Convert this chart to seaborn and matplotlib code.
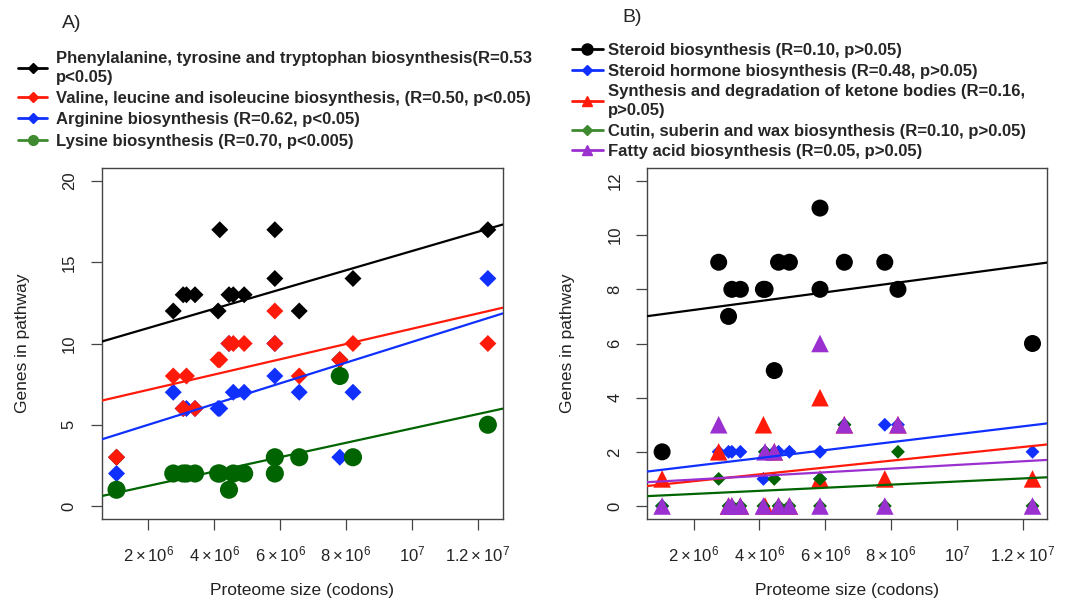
import numpy as np
import pandas as pd
import matplotlib
matplotlib.use('Agg')
import matplotlib.pyplot as plt
from matplotlib.lines import Line2D
from matplotlib import font_manager
import seaborn as sns

# proteome size of each organism (codons, in millions)
proteome = [1.04, 2.76, 3.06, 3.16, 3.42, 4.12, 4.17, 4.45, 4.58, 4.91,
            5.84, 5.84, 6.58, 7.81, 8.21, 12.3]

# panel A: amino acid pathways
phe = [3, 12, 13, 13, 13, 12, 17, 13, 13, 13, 17, 14, 12, 9, 14, 17]
val = [3, 8, 6, 8, 6, 9, 9, 10, 10, 10, 12, 10, 8, 9, 10, 10]
arg = [2, 7, 6, 6, 6, 6, 6, 10, 7, 7, 8, 10, 7, 3, 7, 14]
lys = [1, 2, 2, 2, 2, 2, 2, 1, 2, 2, 3, 2, 3, 8, 3, 5]

# panel B: lipid pathways
steroid = [2, 9, 7, 8, 8, 8, 8, 5, 9, 9, 11, 8, 9, 9, 8, 6]
hormone = [0, 2, 2, 2, 2, 1, 2, 2, 2, 2, 2, 1, 3, 3, 3, 2]
ketone = [1, 2, 0, 0, 0, 3, 0, 2, 0, 0, 4, 1, 3, 1, 3, 1]
cutin = [0, 1, 0, 0, 0, 0, 2, 1, 0, 0, 1, 0, 3, 0, 2, 0]
fatty = [0, 3, 0, 0, 0, 0, 2, 2, 0, 0, 6, 0, 3, 0, 3, 0]

labels_a = ["Phenylalanine, tyrosine and tryptophan biosynthesis(R=0.53\np<0.05)",
            "Valine, leucine and isoleucine biosynthesis, (R=0.50, p<0.05)",
            "Arginine biosynthesis (R=0.62, p<0.05)",
            "Lysine biosynthesis (R=0.70, p<0.005)"]
labels_b = ["Steroid biosynthesis (R=0.10, p>0.05)",
            "Steroid hormone biosynthesis (R=0.48, p>0.05)",
            "Synthesis and degradation of ketone bodies (R=0.16,\np>0.05)",
            "Cutin, suberin and wax biosynthesis (R=0.10, p>0.05)",
            "Fatty acid biosynthesis (R=0.05, p>0.05)"]

xticks = [2e6, 4e6, 6e6, 8e6, 1e7, 1.2e7]
xticklabels = [r'$2\times10^{6}$', r'$4\times10^{6}$', r'$6\times10^{6}$',
               r'$8\times10^{6}$', r'$10^{7}$', r'$1.2\times10^{7}$']

BLACK, RED, BLUE, GREEN, PURPLE = '#000000', '#FF1A0A', '#1030FF', '#006400', '#9A30D0'

sns.set_theme(style='white')
names = {f.name for f in font_manager.fontManager.ttflist}
narrow = 'Liberation Sans Narrow' if 'Liberation Sans Narrow' in names else 'Liberation Sans'
plt.rcParams['font.family'] = [narrow, 'DejaVu Sans']
plt.rcParams['mathtext.fontset'] = 'custom'
plt.rcParams['mathtext.rm'] = narrow
plt.rcParams['mathtext.it'] = narrow
plt.rcParams['mathtext.bf'] = narrow

x = np.array(proteome) * 1e6
df = pd.DataFrame({'x': x, 'phe': phe, 'val': val, 'arg': arg, 'lys': lys,
                   'steroid': steroid, 'hormone': hormone, 'ketone': ketone,
                   'cutin': cutin, 'fatty': fatty})

fig = plt.figure(figsize=(10.73, 6.02), dpi=100)
ax1 = fig.add_axes([101.7 / 1073, 83 / 602, 401 / 1073, 351 / 602])
ax2 = fig.add_axes([647.3 / 1073, 83 / 602, 400 / 1073, 351 / 602])

xlim = (0.59e6, 12.75e6)


def style_axis(ax, ylim, yticks):
    ax.set_xlim(*xlim)
    ax.set_ylim(*ylim)
    ax.set_xticks(xticks)
    ax.set_xticklabels(xticklabels)
    ax.set_yticks(yticks)
    ax.set_yticklabels([str(v) for v in yticks], rotation=90, va='center')
    for s in ax.spines.values():
        s.set_visible(True)
        s.set_color('#444444')
        s.set_linewidth(1.0)
    ax.tick_params(axis='both', direction='out', length=8, width=0.9,
                   color='#444444', labelsize=12, labelcolor='#222222')
    ax.tick_params(axis='x', pad=10, bottom=True)
    ax.tick_params(axis='y', pad=10, left=True)
    ax.set_xlabel('Proteome size (codons)', fontsize=12.5, color='#222222', labelpad=14)
    ax.set_ylabel('Genes in pathway', fontsize=12.5, color='#222222', labelpad=23)


for ax in (ax1, ax2):
    ax.set_xlim(*xlim)

# panel A
series_a = [('phe', BLACK, 'D', 75), ('arg', BLUE, 'D', 75),
            ('val', RED, 'D', 75), ('lys', GREEN, 'o', 170)]
for col, c, m, s in series_a:
    sns.scatterplot(data=df, x='x', y=col, ax=ax1, color=c, marker=m, s=s,
                    edgecolor='none', zorder=2)
for col, c, m, s in series_a:
    sns.regplot(data=df, x='x', y=col, ax=ax1, scatter=False, ci=None,
                truncate=False, color=c, line_kws={'lw': 1.6, 'zorder': 3})
style_axis(ax1, (-0.8, 20.8), [0, 5, 10, 15, 20])

# panel B
series_b = [('steroid', BLACK, 'o', 150), ('hormone', BLUE, 'D', 50),
            ('ketone', RED, '^', 160), ('cutin', GREEN, 'D', 50),
            ('fatty', PURPLE, '^', 160)]
for col, c, m, s in series_b:
    sns.scatterplot(data=df, x='x', y=col, ax=ax2, color=c, marker=m, s=s,
                    edgecolor='none', zorder=2)
for col, c, m, s in series_b:
    sns.regplot(data=df, x='x', y=col, ax=ax2, scatter=False, ci=None,
                truncate=False, color=c, line_kws={'lw': 1.6, 'zorder': 3})
style_axis(ax2, (-0.48, 12.48), [0, 2, 4, 6, 8, 10, 12])

# legends above the panels
bold = font_manager.FontProperties(family=['Liberation Sans', 'DejaVu Sans'],
                                   weight='bold', size=12)
hand_a = [Line2D([], [], color=BLACK, marker='D', ms=5, lw=2),
          Line2D([], [], color=RED, marker='D', ms=5, lw=2),
          Line2D([], [], color=BLUE, marker='D', ms=5, lw=2),
          Line2D([], [], color='#3F8A2F', marker='o', ms=7, lw=2)]
leg_a = fig.legend(hand_a, labels_a, loc='upper left',
                   bbox_to_anchor=(18 / 1073, 1 - 51 / 602),
                   frameon=False, prop=bold, handlelength=1.75, handletextpad=0.5,
                   labelspacing=0.38, borderpad=0, borderaxespad=0)

hand_b = [Line2D([], [], color=BLACK, marker='o', ms=8, lw=2),
          Line2D([], [], color=BLUE, marker='D', ms=5, lw=2),
          Line2D([], [], color=RED, marker='^', ms=7, lw=2),
          Line2D([], [], color='#3F8A2F', marker='D', ms=5, lw=2),
          Line2D([], [], color=PURPLE, marker='^', ms=7, lw=2)]
leg_b = fig.legend(hand_b, labels_b, loc='upper left',
                   bbox_to_anchor=(572 / 1073, 1 - 43 / 602),
                   frameon=False, prop=bold, handlelength=1.85, handletextpad=0.3,
                   labelspacing=0.34, borderpad=0, borderaxespad=0)
for leg, ls in ((leg_a, 1.3), (leg_b, 1.3)):
    for t in leg.get_texts():
        t.set_linespacing(ls)

fig.text(62 / 1073, 1 - 24 / 602, 'A)', fontsize=14, va='center', ha='left',
         family=['Liberation Sans', 'DejaVu Sans'])
fig.text(622 / 1073, 1 - 18 / 602, 'B)', fontsize=14, va='center', ha='left',
         family=['Liberation Sans', 'DejaVu Sans'])

fig.savefig('out.png', dpi=100)
